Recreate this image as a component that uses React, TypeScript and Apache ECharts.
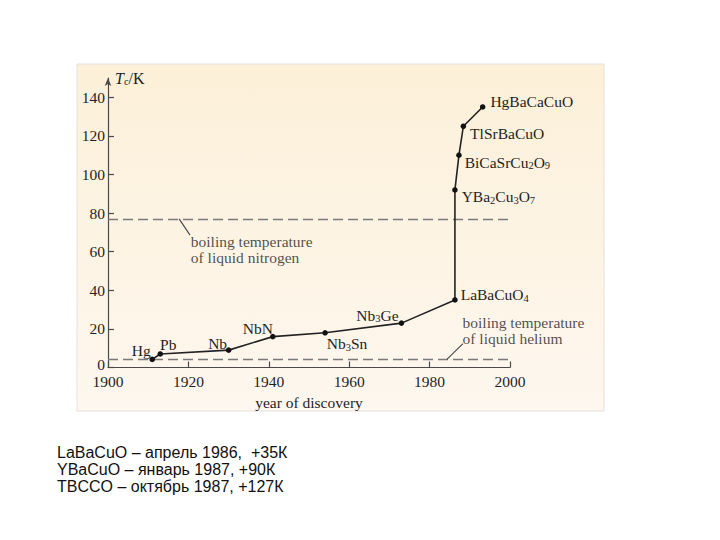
import React, { useEffect, useRef } from "react";
import * as echarts from "echarts";

// Discovery year and critical temperature (K) of superconductors
const years = [1911, 1913, 1930, 1941, 1954, 1973, 1986.3, 1986.3, 1987.3, 1988.4, 1993.2];
const tcValues = [4.2, 7, 9, 16, 18, 23, 35, 92, 110, 125, 135];
const materials = [
  "Hg",
  "Pb",
  "Nb",
  "NbN",
  "Nb{s|3}Sn",
  "Nb{s|3}Ge",
  "LaBaCuO{s|4}",
  "YBa{s|2}Cu{s|3}O{s|7}",
  "BiCaSrCu{s|2}O{s|9}",
  "TlSrBaCuO",
  "HgBaCaCuO",
];

const yTicks = [0, 20, 40, 60, 80, 100, 120, 140];
const nitrogenK = 77;
const heliumK = 4.2;

// annotations
const annotationYears = [1920.6, 1988.2];
const annotationValues = [61, 19];
const annotationTexts = [
  "boiling temperature\nof liquid nitrogen",
  "boiling temperature\nof liquid helium",
];
// pointer lines: from [year, value] to [year, value]
const pointerFrom = [
  [1917.7, 77],
  [1984.3, 4.2],
];
const pointerTo = [
  [1920.4, 68.6],
  [1988.3, 12.4],
];

const captionLines = [
  "LaBaCuO – апрель 1986,  +35К",
  "YBaCuO – январь 1987, +90К",
  "TBCCO – октябрь 1987, +127К",
];

// label layout (style, not data)
const labelLayout: any[] = [
  { position: "inside", offset: [-11, -9] },
  { position: "inside", offset: [8, -9] },
  { position: "inside", offset: [-11, -7] },
  { position: "inside", offset: [-15, -8] },
  { position: "inside", offset: [22, 11] },
  { position: "inside", offset: [-24, -8] },
  { position: "right", distance: 3, offset: [0, -5] },
  { position: "right", distance: 4, offset: [0, 7] },
  { position: "right", distance: 3, offset: [0, 7] },
  { position: "right", distance: 4, offset: [0, 7] },
  { position: "right", distance: 5, offset: [0, -5] },
];

const SERIF = "'Liberation Serif', 'Times New Roman', serif";
const TEXT = "#1f1f1f";
const FS = 15.5;
const richSub = {
  s: { fontSize: 10.5, fontFamily: SERIF, color: TEXT, padding: [7, 0, 0, 0] },
};

export default function App() {
  const ref = useRef<HTMLDivElement>(null);

  useEffect(() => {
    if (!ref.current) return;
    const chart = echarts.init(ref.current, null, { renderer: "svg" });

    const lineData = years.map((y, i) => {
      const lay = labelLayout[i];
      return {
        value: [y, tcValues[i]],
        name: materials[i],
        label: {
          show: true,
          formatter: materials[i],
          position: lay.position,
          distance: lay.distance ?? 0,
          offset: lay.offset,
          align: lay.position === "right" ? "left" : "center",
          verticalAlign: "middle",
          color: TEXT,
          fontFamily: SERIF,
          fontSize: FS,
          rich: richSub,
        },
      };
    });

    const option: any = {
      animation: false,
      backgroundColor: "#ffffff",
      title: {
        text: captionLines.join("\n"),
        left: 57,
        top: 444,
        padding: 0,
        textStyle: {
          fontFamily: "'Liberation Sans', Arial, sans-serif",
          fontSize: 16,
          fontWeight: "normal",
          color: "#111111",
          lineHeight: 17,
        },
      },
      graphic: [
        {
          type: "rect",
          z: -100,
          silent: true,
          shape: { x: 77, y: 64, width: 527, height: 347 },
          style: {
            fill: new echarts.graphic.LinearGradient(0, 0, 0, 1, [
              { offset: 0, color: "#FCF0D8" },
              { offset: 1, color: "#FEF7EF" },
            ]),
            stroke: "#e6e1da",
            lineWidth: 1,
          },
        },
      ],
      grid: { left: 108, right: 210, top: 78, bottom: 172.5, containLabel: false },
      xAxis: {
        type: "value",
        min: 1900,
        max: 2000,
        interval: 20,
        name: "year of discovery",
        nameLocation: "middle",
        nameGap: 30,
        nameTextStyle: { fontFamily: SERIF, fontSize: FS, color: TEXT, verticalAlign: "middle" },
        axisLine: { show: true, lineStyle: { color: "#4a4a4a", width: 1.2 } },
        axisTick: { show: true, inside: true, length: 6, lineStyle: { color: "#4a4a4a", width: 1.2 } },
        axisLabel: {
          fontFamily: SERIF,
          fontSize: FS,
          color: TEXT,
          margin: 6,
          formatter: (v: number) => String(v),
        },
        splitLine: { show: false },
      },
      yAxis: {
        type: "value",
        min: 0,
        max: 150,
        interval: 20,
        name: "{it|T}{s|c}{n|/K}",
        nameLocation: "end",
        nameGap: 0,
        nameTextStyle: {
          align: "left",
          verticalAlign: "middle",
          padding: [0, 0, 0, 7],
          rich: {
            it: { fontFamily: SERIF, fontStyle: "italic", fontSize: 16, color: TEXT },
            s: { fontFamily: SERIF, fontSize: 10.5, color: TEXT, padding: [7, 0, 0, 0] },
            n: { fontFamily: SERIF, fontSize: 16, color: TEXT },
          },
        },
        axisLine: {
          show: true,
          symbol: ["none", "arrow"],
          symbolSize: [5, 8],
          lineStyle: { color: "#4a4a4a", width: 1.2 },
        },
        axisTick: {
          show: true,
          inside: true,
          length: 6,
          customValues: yTicks,
          lineStyle: { color: "#4a4a4a", width: 1.2 },
        },
        axisLabel: {
          fontFamily: SERIF,
          fontSize: FS,
          color: TEXT,
          margin: 3,
          customValues: yTicks,
          formatter: (v: number) =>
            v === 0 ? "{z|0}" : yTicks.indexOf(v) >= 0 ? String(v) : "",
          rich: {
            z: { fontFamily: SERIF, fontSize: FS, color: TEXT, padding: [0, 0, 6, 0] },
          },
        },
        splitLine: { show: false },
      },
      series: [
        {
          type: "line",
          data: lineData,
          symbol: "circle",
          symbolSize: 5.5,
          itemStyle: { color: "#111" },
          lineStyle: { color: "#222", width: 1.6 },
          z: 5,
          markLine: {
            silent: true,
            symbol: ["none", "none"],
            label: { show: false },
            data: [
              { yAxis: nitrogenK, lineStyle: { type: [10, 5], color: "#7a7a7a", width: 1.3 } },
              { yAxis: heliumK, lineStyle: { type: [10, 5], color: "#7a7a7a", width: 1.3 } },
              ...pointerFrom.map((p, i) => [
                { coord: p, lineStyle: { type: "solid", color: "#444", width: 1.1 } },
                { coord: pointerTo[i] },
              ]),
            ],
          },
        },
        {
          type: "scatter",
          symbolSize: 0,
          silent: true,
          data: annotationYears.map((y, i) => ({
            value: [y, annotationValues[i]],
            label: {
              show: true,
              position: "right",
              distance: 0,
              formatter: annotationTexts[i],
              color: TEXT,
              fontFamily: SERIF,
              fontSize: FS,
              lineHeight: 16,
              align: "left",
              verticalAlign: "middle",
            },
          })),
        },
      ],
    };

    chart.setOption(option);
    return () => chart.dispose();
  }, []);

  return (
    <div
      ref={ref}
      style={{ position: "absolute", left: 0, top: 0, width: 720, height: 540 }}
    />
  );
}
